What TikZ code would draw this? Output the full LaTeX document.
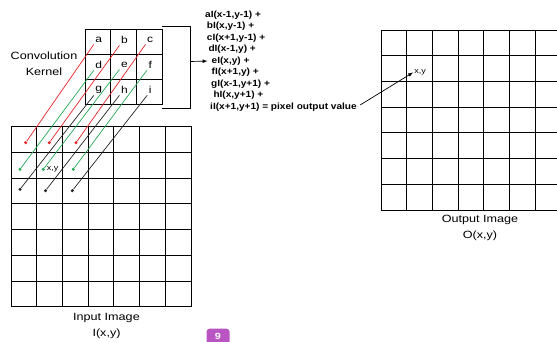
\documentclass[tikz,border=0pt]{standalone}
\usepackage{fontspec}
\setmainfont{Liberation Sans}[FakeStretch=1.2]
\newfontfamily\eqfont{Liberation Sans}[FakeStretch=1.12]
\usetikzlibrary{arrows}
\usetikzlibrary{positioning}
\definecolor{kred}{RGB}{232,35,40}
\definecolor{kgreen}{RGB}{35,170,85}
\definecolor{kdark}{RGB}{35,35,35}
\definecolor{badge}{RGB}{185,85,195}

\begin{document}
\begin{tikzpicture}[x=1pt,y=-1pt,
  cell/.style={draw,line width=.8pt,minimum width=25.7pt,minimum height=25.7pt,inner sep=0pt,outer sep=0pt},
  kcell/.style={cell,minimum height=25pt},
  dot/.style={circle,fill,inner sep=0pt,minimum size=3.4pt},
  letter/.style={inner sep=1.5pt,font=\fontsize{10}{12}\selectfont},
  small/.style={inner sep=.5pt,font=\fontsize{7.5}{9}\selectfont},
  lbl/.style={align=center,font=\fontsize{10.5}{15.5}\selectfont},
  eqline/.style={anchor=west,inner sep=0pt,font=\eqfont\bfseries\fontsize{9}{10}\selectfont}]
\useasboundingbox (0,0) rectangle (557,342);
\foreach \r in {1,...,7}
  \foreach \c in {1,...,7}{
    \node[cell] (in-\r-\c) at ({23.85+25.7*(\c-1)},{139.55+25.7*(\r-1)}) {};
    \node[cell] (out-\r-\c) at ({393.85+25.7*(\c-1)},{42.85+25.7*(\r-1)}) {};
  }
\foreach \l [count=\i from 0,evaluate=\i as \row using {int(\i/3)},evaluate=\i as \col using {int(mod(\i,3))}] in {a,...,i}{
  \node[kcell] (k-\l) at ({97.8+25.7*\col},{41.5+25*\row}) {};
  \node[letter] (\l) at ([shift={(1,-1.5)}]k-\l) {\l};
}
\foreach \l/\x/\y/\col in {a/25.7/142.7/kred, b/49.3/142.7/kred, c/76/142.7/kred,
  d/20/169.3/kgreen, e/43.3/169.3/kgreen, f/73.3/169.3/kgreen,
  g/20/189.3/kdark, h/45.5/190.7/kdark, i/72.3/190.7/kdark}{
  \node[dot,\col] (p\l) at (\x,\y) {};
  \draw[\col,line width=.7pt] (p\l) -- (\l.south west);
}
\node[small,right=1pt of pe] (xyin) {x,y};
\node[lbl] (kernlbl) at (44,63.5) {Convolution\\Kernel};
\node[lbl] (inlbl) at (106.5,326) {Input Image\\I(x,y)};
\node[lbl] (outlbl) at (480,228) {Output Image\\O(x,y)};
\foreach \x/\t [count=\i] in {205/{aI(x-1,y-1) +}, 206.7/{bI(x,y-1) +}, 206.7/{cI(x+1,y-1) +},
  208.3/{dI(x-1,y) +}, 211.5/{eI(x,y) +}, 211.5/{fI(x+1,y) +}, 211/{gI(x-1,y+1) +},
  213.3/{hI(x,y+1) +}, 210/{iI(x+1,y+1) = pixel output value}}
  \node[eqline] (eq\i) at (\x,{3.5+11.5*\i}) {\t};
\draw[line width=.8pt] (162,26) -| (190,108) -- (162,108);
\coordinate (brk) at (190,61.5);
\draw[-latex,line width=.7pt,shorten >=4pt] (brk) -- (eq5.west);
\node[small,inner sep=1pt] (xyout) at (420,72.5) {x,y};
\draw[-latex,line width=.7pt,shorten <=4pt] (eq9.east) -- (xyout.west);
\node[fill=badge,rounded corners=3pt,text=white,anchor=north,minimum width=23pt,minimum height=16pt,inner sep=1pt,font=\bfseries\fontsize{9}{10}\selectfont] (page) at (218,328.5) {9};
\fill[badge] (page.south west) rectangle ([yshift=-6pt]page.south east);
\end{tikzpicture}
\end{document}
